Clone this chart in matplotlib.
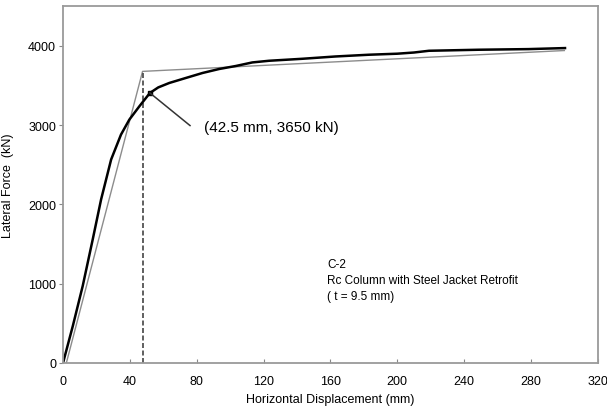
import numpy as np
import matplotlib
matplotlib.use("Agg")
import matplotlib.pyplot as plt

plt.rcParams['font.family'] = ['Liberation Sans', 'DejaVu Sans']

# measured load-displacement curve (mm, kN)
disp = [0, 5.9, 11.8, 17.8, 22.8, 28.8, 34.7, 39.7, 45.7, 52, 57, 63.6, 73.5,
        83.5, 93.4, 103.4, 113.3, 123.3, 143.2, 163, 183, 200, 210, 219,
        248.7, 278.5, 300.4]
force = [0, 469, 972, 1560, 2063, 2566, 2880, 3069, 3237, 3405, 3475, 3531,
         3594, 3657, 3707, 3745, 3790, 3811, 3836, 3865, 3887, 3900, 3915,
         3937, 3950, 3958, 3971]

# idealized bilinear curve
bi_disp = [2, 47.6, 300]
bi_force = [0, 3677, 3940]

yield_disp = 47.6
marker_pt = (52, 3405)
label_pt = (76, 2994)

x_ticks = [0, 40, 80, 120, 160, 200, 240, 280, 320]
y_ticks = [0, 1000, 2000, 3000, 4000]

fig = plt.figure(figsize=(6.07, 4.14), dpi=100)
ax = fig.add_axes([0.1038, 0.1208, 0.881, 0.862])

ax.plot(bi_disp, bi_force, color='#8c8c8c', lw=1.0)
ax.plot([yield_disp, yield_disp], [0, bi_force[1]], color='#444444', lw=1.2,
        ls=(0, (3, 1.5)))
ax.plot(disp, force, color='black', lw=1.8, solid_joinstyle='round')
ax.plot(*marker_pt, marker='s', ms=3, color='black')
ax.plot([marker_pt[0], label_pt[0]], [marker_pt[1], label_pt[1]],
        color='#333333', lw=1.1)

ax.text(84.5, 2981, "(42.5 mm, 3650 kN)", fontsize=11, va='center', ha='left')
ax.text(158, 1330, "C-2\nRc Column with Steel Jacket Retrofit\n( t = 9.5 mm)",
        fontsize=8.5, va='top', ha='left', linespacing=1.45)

ax.set_xlim(0, 320)
ax.set_ylim(0, 4500)
ax.set_xticks(x_ticks)
ax.set_yticks(y_ticks)
ax.tick_params(axis='x', direction='in', length=3, color='#888888',
               labelsize=9, pad=9)
ax.tick_params(axis='y', direction='out', length=3, color='#888888',
               labelsize=9, pad=2)
for s in ax.spines.values():
    s.set_color('#9a9a9a')
    s.set_linewidth(1.3)

ax.set_xlabel("Horizontal Displacement (mm)", fontsize=9, labelpad=4)
ax.set_ylabel("Lateral Force  (kN)", fontsize=9, labelpad=10)

fig.savefig("out.png", dpi=100)
